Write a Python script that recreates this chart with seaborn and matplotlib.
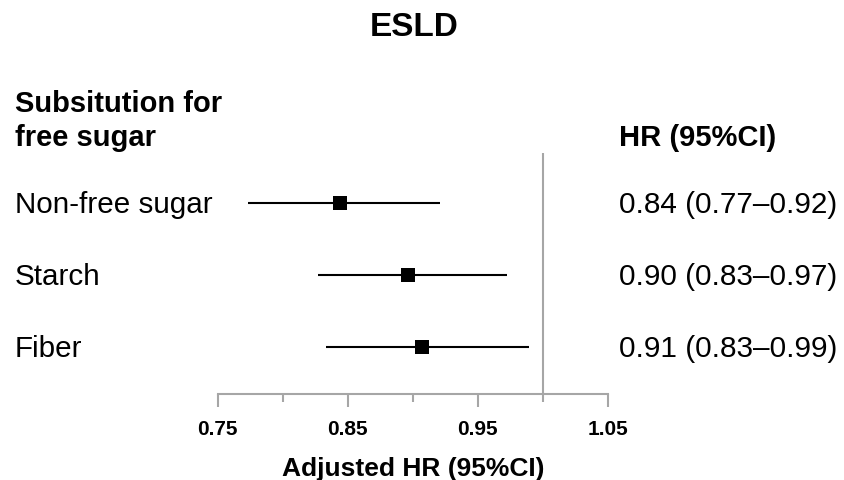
import matplotlib
matplotlib.use("Agg")
import matplotlib.pyplot as plt
import matplotlib.transforms as mtransforms
import seaborn as sns
import pandas as pd

# ---- data ----
categories = ["Non-free sugar", "Starch", "Fiber"]
hr = [0.844, 0.896, 0.907]
ci_low = [0.773, 0.827, 0.833]
ci_high = [0.921, 0.972, 0.989]
hr_labels = ["0.84 (0.77\u20130.92)", "0.90 (0.83\u20130.97)", "0.91 (0.83\u20130.99)"]
major_ticks = [0.75, 0.85, 0.95, 1.05]
major_tick_labels = ["0.75", "0.85", "0.95", "1.05"]
minor_ticks = [0.80, 0.90, 1.00]
reference = 1.0

sns.set_theme(style="white")
plt.rcParams["font.family"] = ["Liberation Sans", "DejaVu Sans"]
plt.rcParams["text.color"] = "black"
plt.rcParams["axes.labelcolor"] = "black"
plt.rcParams["xtick.labelcolor"] = "black"

W, H = 845, 480
GRAY = "#a6a6a6"
fig = plt.figure(figsize=(W / 100, H / 100), dpi=100)
ax = fig.add_axes([217.7 / W, 1 - 394 / H, (608 - 217.7) / W, (394 - 153) / H])

df = pd.DataFrame({"cat": categories, "hr": hr, "lo": ci_low, "hi": ci_high,
                   "row": list(range(len(categories)))})

ax.axvline(reference, color=GRAY, lw=1.5, zorder=1)
ax.hlines(df["row"], df["lo"], df["hi"], color="black", lw=1.5, zorder=2)
sns.scatterplot(data=df, x="hr", y="row", marker="s", s=112, color="black",
                linewidth=0, ax=ax, zorder=3, legend=False)

ax.set_xlim(0.75, 1.05)
ax.set_ylim(2.657, -0.69)
for s in ["top", "right", "left"]:
    ax.spines[s].set_visible(False)
ax.spines["bottom"].set_color(GRAY)
ax.spines["bottom"].set_linewidth(1.5)
ax.set_yticks([])
ax.set_xticks(major_ticks)
ax.set_xticklabels(major_tick_labels, fontsize=15, fontweight="bold", color="black")
ax.set_xticks(minor_ticks, minor=True)
ax.tick_params(axis="x", which="major", length=9.4, width=1.5, color=GRAY,
               direction="out", pad=9, bottom=True, labelcolor="black")
ax.tick_params(axis="x", which="minor", length=5.8, width=1.5, color=GRAY,
               direction="out", bottom=True)
ax.set_xlabel("Adjusted HR (95%CI)", fontsize=19, fontweight="bold", labelpad=13,
              color="black")
ax.set_ylabel("")

# row texts: x in figure coords, y in data coords, shifted so text is centred on row
base = mtransforms.blended_transform_factory(fig.transFigure, ax.transData)
shift = mtransforms.ScaledTranslation(0, -0.107, fig.dpi_scale_trans)
trans = base + shift
for i, (c, lab) in enumerate(zip(categories, hr_labels)):
    ax.text(15 / W, i, c, transform=trans, ha="left", va="baseline", fontsize=21.3,
            color="black", clip_on=False)
    ax.text(619 / W, i, lab, transform=trans, ha="left", va="baseline", fontsize=21.4,
            color="black", clip_on=False)

fig.text(414 / W, 1 - 36 / H, "ESLD", ha="center", va="baseline", fontsize=24,
         fontweight="bold", color="black")
fig.text(15 / W, 1 - 112 / H, "Subsitution for", ha="left", va="baseline",
         fontsize=21, fontweight="bold", color="black")
fig.text(15 / W, 1 - 146 / H, "free sugar", ha="left", va="baseline",
         fontsize=21, fontweight="bold", color="black")
fig.text(619 / W, 1 - 146 / H, "HR (95%CI)", ha="left", va="baseline",
         fontsize=21, fontweight="bold", color="black")

fig.savefig("out.png", dpi=100, facecolor="white")
